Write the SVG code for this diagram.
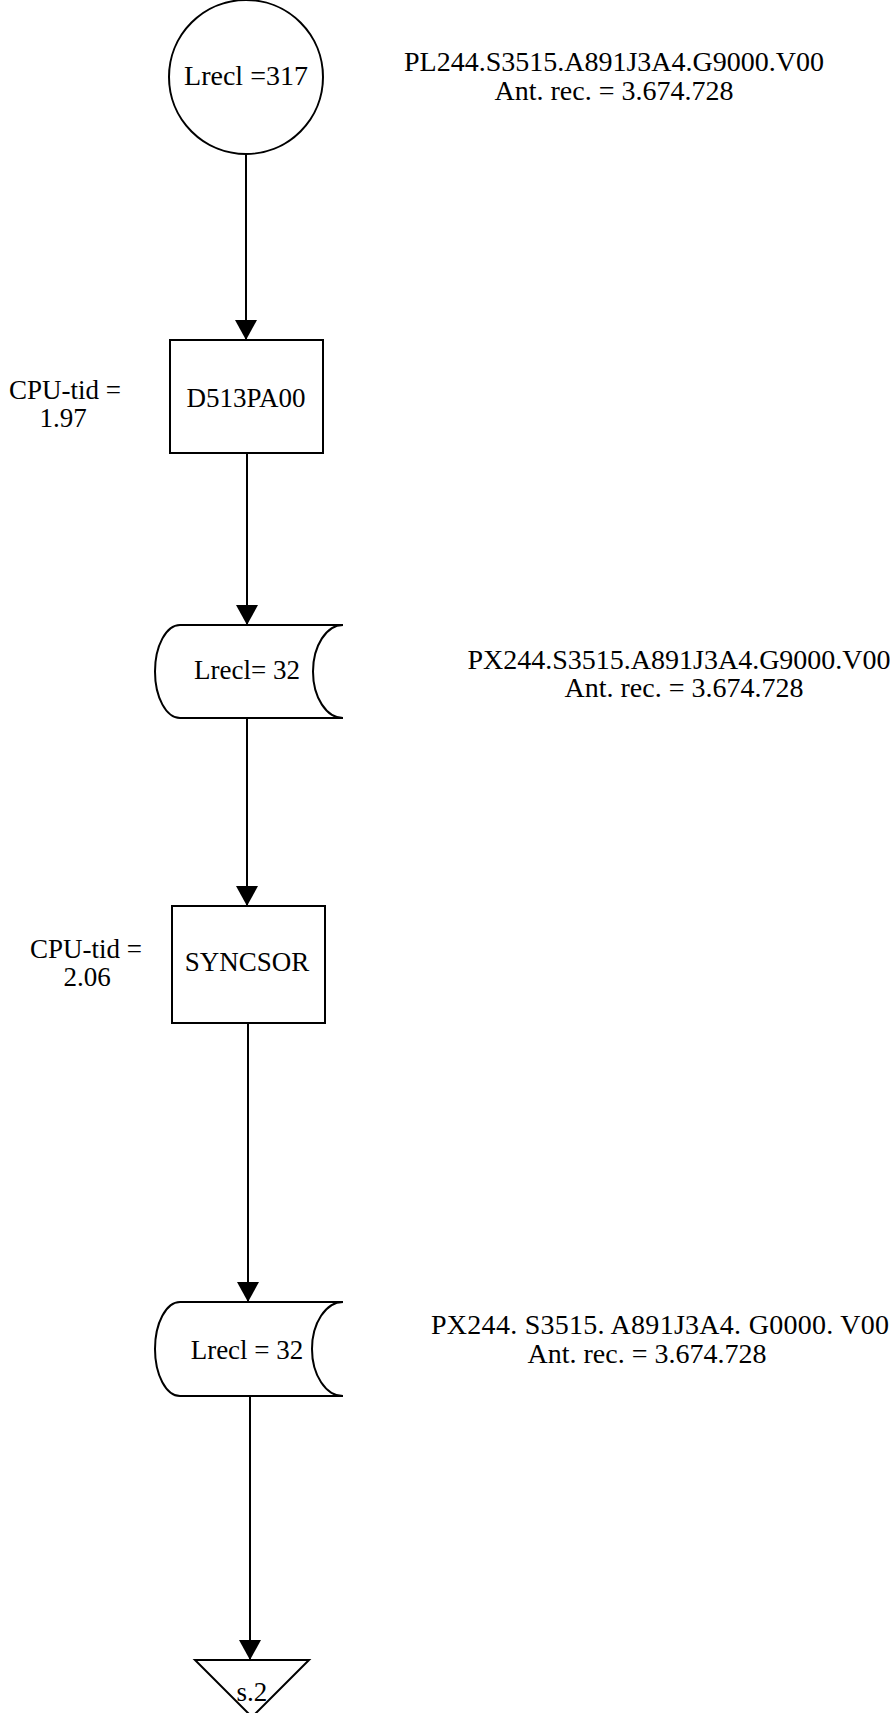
<svg xmlns="http://www.w3.org/2000/svg" width="890" height="1713" viewBox="0 0 890 1713">
<style>
.shape{fill:#fff;stroke:#000;stroke-width:2}
.conn{stroke:#000;stroke-width:2;fill:none}
text{font-family:"Liberation Serif","Times New Roman",serif;font-size:27px;fill:#000;text-anchor:middle}
.lbl{font-size:28px}
</style>
<defs>
<marker id="arrow" markerUnits="userSpaceOnUse" viewBox="0 0 20 22" markerWidth="20" markerHeight="22" refX="20" refY="11" orient="auto">
<path d="M0,0 L20,11 L0,22 Z" fill="#000"/>
</marker>
</defs>
<rect width="890" height="1713" fill="#fff"/>
<g id="connectors">
<line class="conn" x1="246" y1="153" x2="246" y2="340" marker-end="url(#arrow)"/>
<line class="conn" x1="247" y1="453" x2="247" y2="625" marker-end="url(#arrow)"/>
<line class="conn" x1="247" y1="718" x2="247" y2="906" marker-end="url(#arrow)"/>
<line class="conn" x1="248" y1="1023" x2="248" y2="1302" marker-end="url(#arrow)"/>
<line class="conn" x1="250" y1="1396" x2="250" y2="1660" marker-end="url(#arrow)"/>
</g>
<g id="start">
<circle class="shape" cx="246" cy="77" r="77"/>
<text x="246" y="85" style="font-size:28px">Lrecl =317</text>
</g>
<g id="file1-label">
<text class="lbl" x="614" y="71">PL244.S3515.A891J3A4.G9000.V00</text>
<text class="lbl" x="614" y="100">Ant. rec. = 3.674.728</text>
</g>
<g id="d513pa00">
<rect class="shape" x="170" y="340" width="153" height="113"/>
<text x="246" y="407">D513PA00</text>
</g>
<g id="cpu1">
<text x="65" y="399">CPU-tid =</text>
<text x="63" y="427">1.97</text>
</g>
<g id="file2">
<path class="shape" d="M343,625 H180 A25,46.5 0 0 0 180,718 H343 A30,46.5 0 0 1 343,625 Z"/>
<text x="247" y="679">Lrecl= 32</text>
</g>
<g id="file2-label">
<text class="lbl" x="679" y="669">PX244.S3515.A891J3A4.G9000.V00</text>
<text class="lbl" x="684" y="697">Ant. rec. = 3.674.728</text>
</g>
<g id="syncsor">
<rect class="shape" x="172" y="906" width="153" height="117"/>
<text x="247" y="971">SYNCSOR</text>
</g>
<g id="cpu2">
<text x="86" y="958">CPU-tid =</text>
<text x="87" y="986">2.06</text>
</g>
<g id="file3">
<path class="shape" d="M343,1302 H180 A25,47 0 0 0 180,1396 H343 A31,47 0 0 1 343,1302 Z"/>
<text x="247" y="1359">Lrecl = 32</text>
</g>
<g id="file3-label">
<text class="lbl" x="660" y="1334" textLength="458" lengthAdjust="spacing">PX244. S3515. A891J3A4. G0000. V00</text>
<text class="lbl" x="647" y="1363">Ant. rec. = 3.674.728</text>
</g>
<g id="page-ref">
<path class="shape" d="M195,1660 H309 L252,1717 Z"/>
<text x="252" y="1701">s.2</text>
</g>
</svg>
